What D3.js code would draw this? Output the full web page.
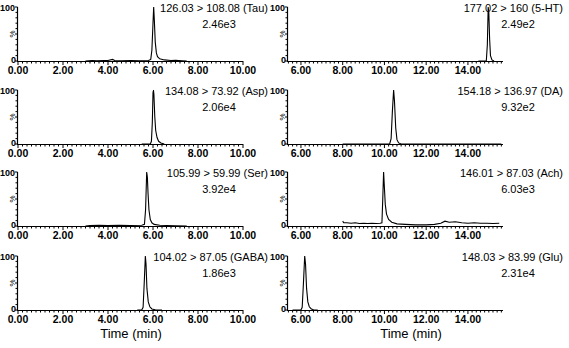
<!DOCTYPE html>
<html><head><meta charset="utf-8">
<script src="https://cdn.jsdelivr.net/npm/d3@7"></script>
<style>
html,body{margin:0;padding:0;background:#fff;}
svg{display:block;}
text{font-family:"Liberation Sans",Arial,Helvetica,sans-serif;fill:#000;}
</style></head>
<body>
<svg id="chart" width="569" height="348"></svg>
<script>
// ---- data ----
const leftTransitions = ["126.03 > 108.08 (Tau)", "134.08 > 73.92 (Asp)", "105.99 > 59.99 (Ser)", "104.02 > 87.05 (GABA)"];
const leftIntensities = ["2.46e3", "2.06e4", "3.92e4", "1.86e3"];
const rightTransitions = ["177.02 > 160 (5-HT)", "154.18 > 136.97 (DA)", "146.01 > 87.03 (Ach)", "148.03 > 83.99 (Glu)"];
const rightIntensities = ["2.49e2", "9.32e2", "6.03e3", "2.31e4"];
const leftTicks = [0, 2, 4, 6, 8, 10];
const rightTicks = [6, 8, 10, 12, 14];
const xTitle = "Time (min)";

const tauTrace = [[3.0,0],[3.3,1],[3.5,0.5],[3.8,1],[4.0,1],[4.2,3],[4.3,1],[4.6,0.5],[5.0,1],[5.4,0.5],[5.8,1],[5.9,3],[5.95,20],[6.0,70],[6.03,100],[6.06,75],[6.1,35],[6.15,15],[6.2,8],[6.3,4],[6.5,2],[6.8,1],[7.0,1.5],[7.3,0.5],[7.5,0]];
const aspTrace = [[5.5,0],[5.88,0],[5.93,5],[5.97,40],[6.0,95],[6.02,100],[6.04,92],[6.08,50],[6.12,25],[6.18,12],[6.25,5],[6.35,2],[6.5,0]];
const serTrace = [[3.0,0],[3.2,1],[3.6,1.5],[4.0,1],[4.5,1.5],[5.0,1],[5.5,1.5],[5.62,3],[5.67,30],[5.72,100],[5.75,90],[5.78,60],[5.82,30],[5.88,12],[5.95,6],[6.05,3],[6.3,1.5],[6.6,1],[7.0,0.5],[7.5,0]];
const gabaTrace = [[5.3,0],[5.5,0],[5.56,5],[5.61,50],[5.66,100],[5.69,85],[5.73,40],[5.79,15],[5.86,6],[5.95,2],[6.1,0.5],[6.4,0]];
const htTrace = [[14.5,0],[14.88,0],[14.93,30],[14.97,100],[15.0,90],[15.04,40],[15.08,10],[15.15,2],[15.25,0]];
const daTrace = [[8.0,0],[10.25,0],[10.32,10],[10.38,60],[10.44,100],[10.48,80],[10.54,30],[10.6,8],[10.68,2],[10.8,0],[15.6,0]];
const achTrace = [[8.0,9],[8.05,6],[8.2,6],[8.4,5],[8.6,6],[8.8,4.5],[9.0,5],[9.2,4.5],[9.4,5],[9.6,4.5],[9.8,5],[9.88,6],[9.92,50],[9.96,100],[10.0,70],[10.04,40],[10.1,22],[10.2,12],[10.35,7],[10.6,4],[11.0,3],[11.5,2],[12.0,2],[12.4,3],[12.7,5],[12.9,9],[13.1,7],[13.4,8],[13.7,6],[14.0,5],[14.3,6],[14.6,5],[14.9,5],[15.2,4.5],[15.5,5]];
const gluTrace = [[5.6,0],[6.0,0],[6.06,5],[6.12,50],[6.18,100],[6.22,85],[6.27,40],[6.33,15],[6.4,6],[6.5,2],[6.6,0.5],[6.8,0]];

const leftTraces = [tauTrace, aspTrace, serTrace, gabaTrace];
const rightTraces = [htTrace, daTrace, achTrace, gluTrace];

// ---- layout ----
const svg = d3.select("#chart");
const rowTops = [7, 90, 172, 256];
const rowH = 54;
const cols = [
  {x0: 18, x1: 243, domain: [0, 10], ticks: leftTicks, trans: leftTransitions, inten: leftIntensities, traces: leftTraces, textRight: 268, textMid: 219, titleX: 131},
  {x0: 288, x1: 503, domain: [5.38, 15.68], ticks: rightTicks, trans: rightTransitions, inten: rightIntensities, traces: rightTraces, textRight: 563, textMid: 518, titleX: 411}
];
const fmt = d3.format(".2f");

cols.forEach(c => {
  const x = d3.scaleLinear().domain(c.domain).range([c.x0, c.x1]);
  rowTops.forEach((top, i) => {
    const y = d3.scaleLinear().domain([0, 100]).range([top + rowH, top]);
    const g = svg.append("g");
    // x axis: minor ticks
    const minor = d3.range(Math.ceil(c.domain[0] * 5), Math.floor(c.domain[1] * 5) + 1).map(v => v / 5);
    g.append("line").attr("x1", c.x0).attr("x2", c.x1).attr("y1", y(0) + 0.5).attr("y2", y(0) + 0.5)
      .attr("stroke", "#000").attr("stroke-width", 1.2);
    g.selectAll(".mt").data(minor).enter().append("line")
      .attr("x1", d => x(d)).attr("x2", d => x(d))
      .attr("y1", y(0)).attr("y2", d => y(0) + (Math.abs(d - Math.round(d / 2) * 2) < 1e-6 ? 4 : 2.5))
      .attr("stroke", "#000").attr("stroke-width", 1);
    g.selectAll(".tl").data(c.ticks).enter().append("text")
      .attr("x", d => x(d)).attr("y", y(0) + 12.5)
      .attr("text-anchor", "middle").attr("font-size", 10.5).attr("font-weight", "bold")
      .text(d => fmt(d));
    // y axis
    g.append("line").attr("x1", c.x0 - 0.5).attr("x2", c.x0 - 0.5).attr("y1", y(100)).attr("y2", y(0) + 1)
      .attr("stroke", "#000").attr("stroke-width", 1.2);
    g.selectAll(".yt").data(d3.range(0, 101, 10)).enter().append("line")
      .attr("x1", c.x0 - 0.5).attr("x2", d => c.x0 - (d % 50 === 0 ? 3 : 2.5))
      .attr("y1", d => y(d)).attr("y2", d => y(d))
      .attr("stroke", "#000").attr("stroke-width", 1);
    g.append("text").attr("x", c.x0 - 3).attr("y", y(100) + 3.5).attr("text-anchor", "end")
      .attr("font-size", 9).attr("font-weight", "bold").text("100");
    g.append("text").attr("x", c.x0 - 2).attr("y", y(0) + 1.5).attr("text-anchor", "end")
      .attr("font-size", 9).attr("font-weight", "bold").text("0");
    g.append("text").attr("transform", `translate(${c.x0 - 3},${y(50)}) rotate(-90)`)
      .attr("text-anchor", "middle").attr("font-size", 8).text("%");
    // trace
    g.append("path").datum(c.traces[i])
      .attr("d", d3.line().x(d => x(d[0])).y(d => y(d[1])))
      .attr("fill", "none").attr("stroke", "#000").attr("stroke-width", 1.1);
    // annotations
    g.append("text").attr("x", c.textRight).attr("y", top + 4.5).attr("text-anchor", "end")
      .attr("font-size", 11).text(c.trans[i]);
    g.append("text").attr("x", c.textMid).attr("y", top + 21).attr("text-anchor", "middle")
      .attr("font-size", 11).text(c.inten[i]);
  });
  svg.append("text").attr("x", c.titleX).attr("y", 338).attr("text-anchor", "middle")
    .attr("font-size", 13).text(xTitle);
});
</script>
</body></html>
